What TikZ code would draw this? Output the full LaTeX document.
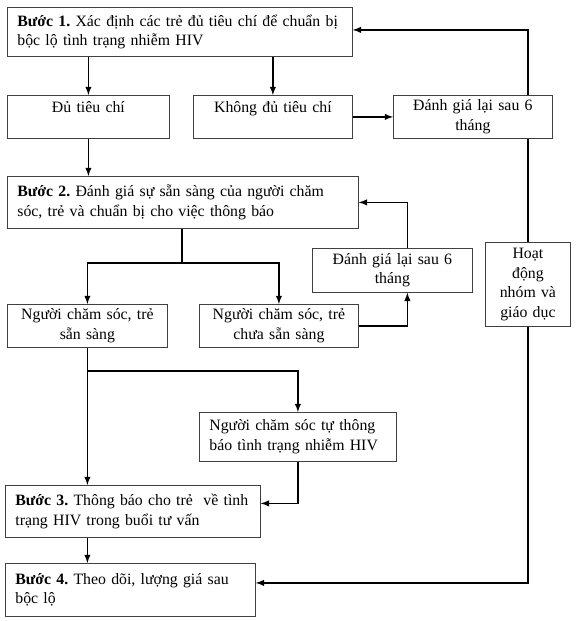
\documentclass[tikz,border=0pt]{standalone}
\usepackage{fontspec}
\setmainfont{Liberation Serif}
\frenchspacing
\tikzset{
  box/.style={draw=black!75, fill=white, line width=0.8pt, anchor=north west,
    inner xsep=10pt, inner ysep=0pt, font=\fontsize{15.8}{19.5}\selectfont},
  boxsize/.style 2 args={minimum width=#1, text width=#1-20pt, minimum height=#2},
  link/.style={line width=1.8pt},
}

\begin{document}
\begin{tikzpicture}[x=1pt, y=-1pt]
  \fill[white] (0,0) rectangle (576,621);
  \useasboundingbox (0,0) rectangle (576,621);

  \node[box, boxsize={345pt}{49pt}, align=left] (b1) at (7,7)
    {\textbf{Bước 1.} Xác định các trẻ đủ tiêu chí để chuẩn bị\\bộc lộ tình trạng nhiễm HIV};
  \node[box, boxsize={162pt}{43pt}, align=center] (du) at (7,95) {Đủ tiêu chí\\~};
  \node[box, boxsize={159pt}{43pt}, align=center] (khong) at (193,95) {Không đủ tiêu chí\\~};
  \node[box, boxsize={159pt}{43pt}, align=center] (dg1) at (393,95) {Đánh giá lại sau 6\\tháng};

  \node[box, boxsize={351pt}{52pt}, align=left] (b2) at (7,176)
    {\textbf{Bước 2.} Đánh giá sự sẵn sàng của người chăm\\sóc, trẻ và chuẩn bị cho việc thông báo};
  \node[box, boxsize={160pt}{44pt}, align=center] (dg2) at (312,248) {Đánh giá lại sau 6\\tháng};
  \node[box, boxsize={85pt}{84pt}, align=center] (hd) at (485,242) {Hoạt\\động\\nhóm và\\giáo dục};
  \node[box, boxsize={160pt}{43pt}, align=center] (ss) at (7,304) {Người chăm sóc, trẻ\\sẵn sàng};
  \node[box, boxsize={159pt}{43pt}, align=center] (css) at (199,304) {Người chăm sóc, trẻ\\chưa sẵn sàng};

  \node[box, boxsize={197pt}{49pt}, align=left] (tu) at (199,412)
    {Người chăm sóc tự thông\\báo tình trạng nhiễm HIV};
  \node[box, boxsize={255pt}{52pt}, align=left] (b3) at (5,485)
    {\textbf{Bước 3.} Thông báo cho trẻ\ \ về tình\\trạng HIV trong buổi tư vấn};
  \node[box, boxsize={250pt}{53pt}, align=left] (b4) at (5,563)
    {\textbf{Bước 4.} Theo dõi, lượng giá sau\\bộc lộ};

  \coordinate (split) at (182,263);
  \coordinate (fork) at (87,371);

  % step 1
  \draw[link, -latex] (du.north |- b1.south) -- (du.north);
  \draw[link, -latex] (khong.north |- b1.south) -- (khong.north);
  \draw[link, -latex] (khong.east) -- (dg1.west);
  \draw[link, -latex] (du.south) -- (du.south |- b2.north);
  % feedback
  \draw[link] (hd.north) -- (hd.north |- dg1.south);
  \draw[link, -latex] (hd.north |- dg1.north) |- ([yshift=2pt]b1.east);
  \draw[link, -latex] (hd.south) |- ([yshift=7pt]b4.east);
  % step 2
  \draw[link] (split |- b2.south) -- (split);
  \draw[link, -latex] (split) -| (ss.north);
  \draw[link, -latex] (split) -| (css.north);
  \draw[link, -latex] (css.east) -| ([xshift=15pt]dg2.south);
  \draw[link, -latex] ([xshift=15pt]dg2.north) |- (b2.east);
  % step 3
  \draw[link, -latex] (ss.south) -- (ss.south |- b3.north);
  \draw[link, -latex] (fork) -| (tu.north);
  \draw[link, -latex] (tu.south) |- ([yshift=8pt]b3.east);
  \draw[link, -latex] (ss.south |- b3.south) -- (ss.south |- b4.north);
\end{tikzpicture}
\end{document}
